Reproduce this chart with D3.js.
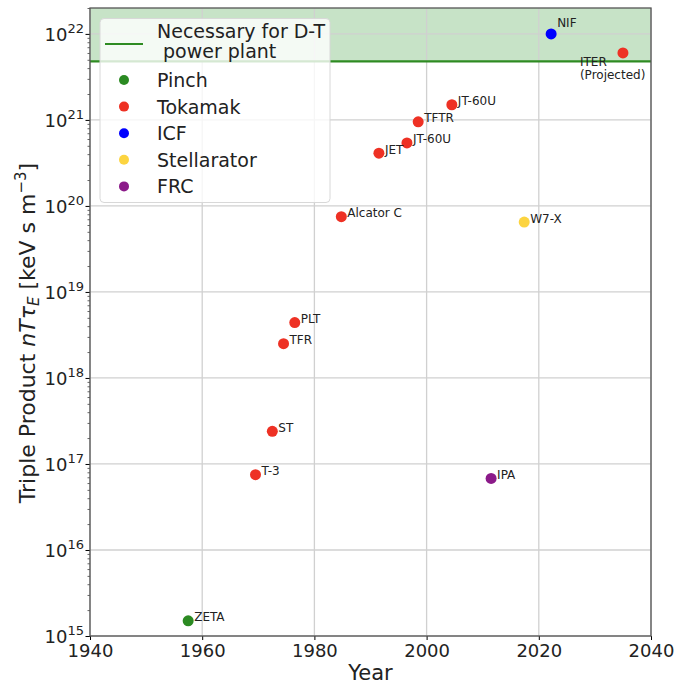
<!DOCTYPE html>
<html>
<head>
<meta charset="utf-8">
<script src="https://cdn.jsdelivr.net/npm/d3@7"></script>
<style>
  body { margin: 0; background: #fff; }
  svg { display: block; }
  text { font-family: "DejaVu Sans", sans-serif; fill: #222; }
</style>
</head>
<body>
<div class="container"></div>
<script>
const width = 686;
const height = 684;
const margin = { top: 8, right: 35, bottom: 48, left: 90 };

// machines, one entry each
const names = ["ZETA", "T-3", "ST", "TFR", "PLT", "Alcator C", "JET", "JT-60U", "TFTR", "JT-60U", "NIF", "ITER", "W7-X", "IPA"];
const years = [1957.5, 1969.5, 1972.5, 1974.5, 1976.5, 1984.8, 1991.5, 1996.5, 1998.5, 2004.5, 2022.2, 2035, 2017.4, 2011.5];
const tripleProducts = [1.5e15, 7.5e16, 2.4e17, 2.5e18, 4.4e18, 7.5e19, 4.1e20, 5.4e20, 9.5e20, 1.5e21, 1.0e22, 6.0e21, 6.5e19, 6.8e16];
const concepts = ["Pinch", "Tokamak", "Tokamak", "Tokamak", "Tokamak", "Tokamak", "Tokamak", "Tokamak", "Tokamak", "Tokamak", "ICF", "Tokamak", "Stellarator", "FRC"];

const conceptNames = ["Pinch", "Tokamak", "ICF", "Stellarator", "FRC"];
const conceptColors = ["#2b8a22", "#ee3124", "#0000ff", "#fcd440", "#8b1a89"];

const powerPlantThreshold = 4.8e21;
const yearTicks = [1940, 1960, 1980, 2000, 2020, 2040];
const exponentTicks = [15, 16, 17, 18, 19, 20, 21, 22];

const x = d3.scaleLinear().domain([1940, 2040]).range([margin.left, width - margin.right]);
const y = d3.scaleLog().domain([1e15, 2e22]).range([height - margin.bottom, margin.top]);
const color = d3.scaleOrdinal().domain(conceptNames).range(conceptColors);

const svg = d3.select(".container")
    .append("svg")
    .attr("width", width)
    .attr("height", height)
    .attr("viewBox", `0 0 ${width} ${height}`);

const x0 = margin.left, x1 = width - margin.right;
const yBottom = height - margin.bottom, yTop = margin.top;

// shaded region above the power plant line
svg.append("rect")
    .attr("x", x0)
    .attr("y", yTop)
    .attr("width", x1 - x0)
    .attr("height", y(powerPlantThreshold) - yTop)
    .attr("fill", "#008000")
    .attr("fill-opacity", 0.22);

// grid
svg.append("g")
    .selectAll("line")
    .data(yearTicks)
    .join("line")
    .attr("x1", d => x(d)).attr("x2", d => x(d))
    .attr("y1", yTop).attr("y2", yBottom)
    .attr("stroke", "#d0d0d0")
    .attr("stroke-width", 1.3);
svg.append("g")
    .selectAll("line")
    .data(exponentTicks)
    .join("line")
    .attr("x1", x0).attr("x2", x1)
    .attr("y1", d => y(Math.pow(10, d))).attr("y2", d => y(Math.pow(10, d)))
    .attr("stroke", "#d0d0d0")
    .attr("stroke-width", 1.3);

// threshold line
svg.append("line")
    .attr("x1", x0).attr("x2", x1)
    .attr("y1", y(powerPlantThreshold)).attr("y2", y(powerPlantThreshold))
    .attr("stroke", "#2e8b22")
    .attr("stroke-width", 2.2);

// axes
const xAxis = svg.append("g")
    .attr("transform", `translate(0,${yBottom})`)
    .call(d3.axisBottom(x).tickValues(yearTicks).tickFormat(d3.format("d")).tickSize(4).tickPadding(4));
xAxis.select(".domain").remove();
xAxis.selectAll("text").style("font-size", "18px").attr("fill", "#222");

const minorTicks = [];
exponentTicks.forEach(e => { for (let m = 2; m <= 9; m++) { if (m * Math.pow(10, e) <= 2e22) minorTicks.push(m * Math.pow(10, e)); } });
const yAxis = svg.append("g")
    .attr("transform", `translate(${x0},0)`)
    .call(d3.axisLeft(y).tickValues(minorTicks).tickFormat("").tickSize(2.5));
yAxis.select(".domain").remove();
yAxis.selectAll("line").attr("stroke", "#666");

const yMajor = svg.append("g")
    .attr("transform", `translate(${x0},0)`)
    .call(d3.axisLeft(y).tickValues(exponentTicks.map(e => Math.pow(10, e))).tickFormat("").tickSize(4.5));
yMajor.select(".domain").remove();
yMajor.selectAll(".tick").each(function (d) {
    const t = d3.select(this).append("text")
        .attr("x", -20)
        .attr("dy", "0.36em")
        .attr("text-anchor", "end")
        .style("font-size", "18px")
        .attr("fill", "#222");
    t.append("tspan").text("10");
    t.append("tspan")
        .attr("dy", -8)
        .style("font-size", "13px")
        .text(Math.round(Math.log10(d)));
});
yMajor.selectAll("text").attr("x", -6);

// frame
svg.append("rect")
    .attr("x", x0).attr("y", yTop)
    .attr("width", x1 - x0).attr("height", yBottom - yTop)
    .attr("fill", "none")
    .attr("stroke", "#555")
    .attr("stroke-width", 1.3);

// points
const points = names.map((n, i) => ({ name: n, year: years[i], value: tripleProducts[i], concept: concepts[i] }));
svg.append("g")
    .selectAll("circle")
    .data(points)
    .join("circle")
    .attr("cx", d => x(d.year))
    .attr("cy", d => y(d.value))
    .attr("r", 5.5)
    .attr("fill", d => color(d.concept));

// labels
const labelShift = { NIF: [6, -6.5] };
svg.append("g")
    .selectAll("text")
    .data(points.filter(d => d.name !== "ITER"))
    .join("text")
    .attr("x", d => x(d.year) + (labelShift[d.name] ? labelShift[d.name][0] : 6))
    .attr("y", d => y(d.value) + (labelShift[d.name] ? labelShift[d.name][1] : 0.5))
    .style("font-size", "12px")
    .text(d => d.name);

const iter = points.find(d => d.name === "ITER");
const iterLabel = svg.append("text")
    .attr("x", x(iter.year) - 43)
    .attr("y", y(iter.value) + 13)
    .style("font-size", "12px");
iterLabel.append("tspan").text("ITER");
iterLabel.append("tspan").attr("x", x(iter.year) - 43).attr("dy", 13.5).text("(Projected)");

// axis titles
svg.append("text")
    .attr("x", (x0 + x1) / 2)
    .attr("y", 680)
    .attr("text-anchor", "middle")
    .style("font-size", "21px")
    .text("Year");

const yl = svg.append("text")
    .attr("transform", "translate(35,333) rotate(-90)")
    .attr("text-anchor", "middle")
    .style("font-size", "22px");
yl.append("tspan").text("Triple Product ");
yl.append("tspan").style("font-style", "italic").text("nTτ");
yl.append("tspan").style("font-style", "italic").style("font-size", "15px").attr("dy", 4).text("E");
yl.append("tspan").attr("dy", -4).text(" [keV s m");
yl.append("tspan").style("font-size", "15px").attr("dy", -9).text("−3");
yl.append("tspan").attr("dy", 9).text("]");

// legend
const legend = svg.append("g");
legend.append("rect")
    .attr("x", 100).attr("y", 18.5)
    .attr("width", 230).attr("height", 184)
    .attr("rx", 4)
    .attr("fill", "#fff")
    .attr("fill-opacity", 0.8)
    .attr("stroke", "#d8d8d8");
legend.append("line")
    .attr("x1", 105).attr("x2", 143)
    .attr("y1", 44).attr("y2", 44)
    .attr("stroke", "#2e8b22")
    .attr("stroke-width", 2);
legend.append("text")
    .attr("x", 157).attr("y", 38)
    .style("font-size", "19px")
    .text("Necessary for D-T");
legend.append("text")
    .attr("x", 157).attr("y", 58)
    .style("font-size", "19px")
    .attr("xml:space", "preserve")
    .text("\u00a0power plant");
const items = legend.selectAll("g.item")
    .data(conceptNames)
    .join("g")
    .attr("class", "item")
    .attr("transform", (d, i) => `translate(124,${80 + i * 26.6})`);
items.append("circle")
    .attr("r", 5)
    .attr("fill", d => color(d));
items.append("text")
    .attr("x", 33).attr("y", 7)
    .style("font-size", "19px")
    .text(d => d);
</script>
</body>
</html>
